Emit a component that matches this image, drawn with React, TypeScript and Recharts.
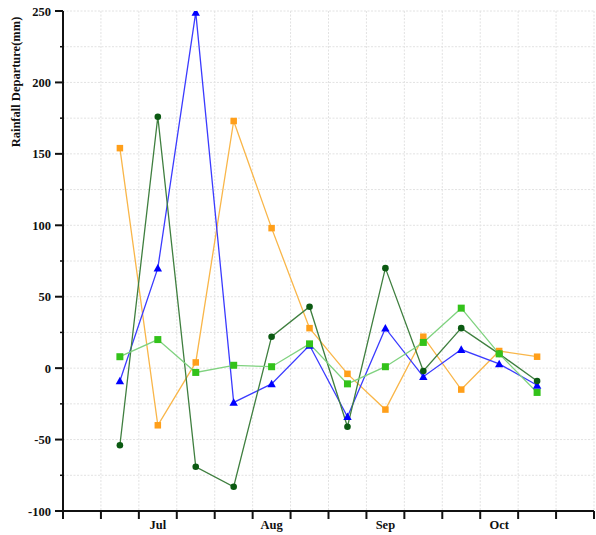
import React from 'react';
import { LineChart, Line, XAxis, YAxis, CartesianGrid, Label } from 'recharts';

const weeks = [1, 2, 3, 4, 5, 6, 7, 8, 9, 10, 11, 12];
const orangeSeries = [154, -40, 4, 173, 98, 28, -4, -29, 22, -15, 12, 8];
const blueSeries = [-9, 70, 249, -24, -11, 16, -34, 28, -6, 13, 3, -12];
const darkGreenSeries = [-54, 176, -69, -83, 22, 43, -41, 70, -2, 28, 10, -9];
const lightGreenSeries = [8, 20, -3, 2, 1, 17, -11, 1, 18, 42, 10, -17];

const monthLabels = ['Jul', 'Aug', 'Sep', 'Oct'];
const monthCenters = [2, 5, 8, 11];
const weekBoundaries = [-0.5, 0.5, 1.5, 2.5, 3.5, 4.5, 5.5, 6.5, 7.5, 8.5, 9.5, 10.5, 11.5, 12.5, 13.5];
const yTicks = [-100, -75, -50, -25, 0, 25, 50, 75, 100, 125, 150, 175, 200, 225, 250];
const yLabel = 'Rainfall Departure(mm)';

const data = weeks.map((w, i) => ({
  week: w,
  orange: orangeSeries[i],
  blue: blueSeries[i],
  darkGreen: darkGreenSeries[i],
  lightGreen: lightGreenSeries[i],
}));

const xTicks = [...weekBoundaries, ...monthCenters].sort((a, b) => a - b);

const FONT = '"Liberation Serif", "Times New Roman", serif';

const XTick = (props: any) => {
  const { x, y, payload } = props;
  const v = payload.value;
  const mi = monthCenters.indexOf(v);
  if (mi >= 0) {
    return (
      <text x={x} y={y + 18} textAnchor="middle" fontFamily={FONT} fontWeight="bold" fontSize={12.5} fill="#111">
        {monthLabels[mi]}
      </text>
    );
  }
  return <line x1={x} y1={y} x2={x} y2={y + 8} stroke="#111" strokeWidth={2} />;
};

const YTick = (props: any) => {
  const { x, y, payload } = props;
  const v = payload.value;
  if (v % 50 === 0) {
    return (
      <g>
        <line x1={x - 8} y1={y} x2={x} y2={y} stroke="#111" strokeWidth={2} />
        <text x={x - 12} y={y + 4.5} textAnchor="end" fontFamily={FONT} fontWeight="bold" fontSize={12.5} fill="#111">
          {v}
        </text>
      </g>
    );
  }
  return <line x1={x - 3} y1={y} x2={x} y2={y} stroke="#111" strokeWidth={1.5} />;
};

const SquareDot = (color: string, size: number) => (props: any) => {
  const { cx, cy, index } = props;
  if (cx == null || cy == null) return <g key={index} />;
  return <rect key={index} x={cx - size / 2} y={cy - size / 2} width={size} height={size} fill={color} />;
};

const TriangleDot = (color: string) => (props: any) => {
  const { cx, cy, index } = props;
  if (cx == null || cy == null) return <g key={index} />;
  const s = 4.2;
  return <polygon key={index} points={`${cx},${cy - s} ${cx - s},${cy + s * 0.8} ${cx + s},${cy + s * 0.8}`} fill={color} />;
};

const CircleDot = (color: string) => (props: any) => {
  const { cx, cy, index } = props;
  if (cx == null || cy == null) return <g key={index} />;
  return <circle key={index} cx={cx} cy={cy} r={3.3} fill={color} />;
};

export default function App() {
  return (
    <div style={{ position: 'absolute', left: 0, top: 0, width: 596, height: 535, background: '#fff' }}>
      <LineChart width={596} height={535} data={data} margin={{ top: 11, right: 2, left: 0, bottom: 0 }}>
        <CartesianGrid
          stroke="#e2e2e2"
          strokeDasharray="2 1.5"
          verticalValues={weekBoundaries}
          horizontalValues={yTicks}
        />
        <XAxis
          dataKey="week"
          type="number"
          domain={[-0.5, 13.5]}
          ticks={xTicks}
          interval={0}
          height={24}
          tickSize={0}
          tickMargin={0}
          tickLine={false}
          tick={<XTick />}
          axisLine={{ stroke: '#111', strokeWidth: 2 }}
          allowDataOverflow
        />
        <YAxis
          type="number"
          domain={[-100, 250]}
          ticks={yTicks}
          interval={0}
          width={63}
          tickSize={0}
          tickMargin={0}
          tickLine={false}
          tick={<YTick />}
          axisLine={{ stroke: '#111', strokeWidth: 2 }}
          allowDataOverflow
        >
          <Label
            content={(p: any) => {
              const vb = p.viewBox || { x: 0, y: 11 };
              const cx = vb.x + 17;
              const cy = vb.y + 71;
              return (
                <text
                  x={cx}
                  y={cy}
                  transform={`rotate(-90 ${cx} ${cy})`}
                  textAnchor="middle"
                  dominantBaseline="middle"
                  fontFamily={FONT}
                  fontWeight="bold"
                  fontSize={12.5}
                  fill="#111"
                >
                  {yLabel}
                </text>
              );
            }}
          />
        </YAxis>
        <Line
          dataKey="orange"
          stroke="#f9b649"
          strokeWidth={1.3}
          isAnimationActive={false}
          dot={SquareDot('#ff9f1a', 6.5)}
          activeDot={false}
        />
        <Line
          dataKey="blue"
          stroke="#3b3bff"
          strokeWidth={1.3}
          isAnimationActive={false}
          dot={TriangleDot('#0000ff')}
          activeDot={false}
        />
        <Line
          dataKey="darkGreen"
          stroke="#3f7f3f"
          strokeWidth={1.3}
          isAnimationActive={false}
          dot={CircleDot('#0b5a12')}
          activeDot={false}
        />
        <Line
          dataKey="lightGreen"
          stroke="#7fd27f"
          strokeWidth={1.3}
          isAnimationActive={false}
          dot={SquareDot('#33c21a', 7)}
          activeDot={false}
        />
      </LineChart>
    </div>
  );
}
